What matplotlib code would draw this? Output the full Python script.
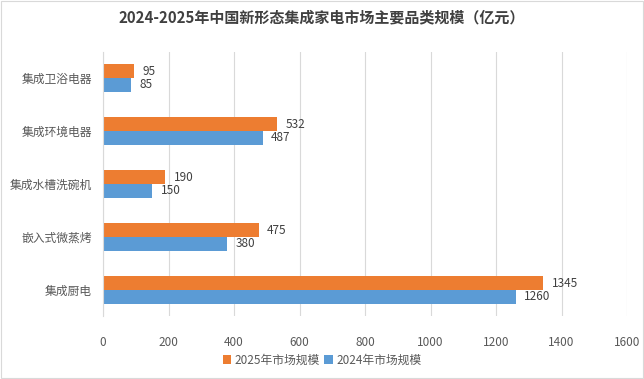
import numpy as np
import matplotlib.pyplot as plt
from matplotlib.patches import Rectangle

plt.rcParams['font.family'] = ['Noto Sans CJK SC', 'DejaVu Sans']

# 数据
categories = ['集成卫浴电器', '集成环境电器', '集成水槽洗碗机', '嵌入式微蒸烤', '集成厨电']
values_2025 = [95, 532, 190, 475, 1345]
values_2024 = [85, 487, 150, 380, 1260]
xticks = [0, 200, 400, 600, 800, 1000, 1200, 1400, 1600]

c25 = '#ED7D31'
c24 = '#5B9BD5'
txt = '#595959'

fig = plt.figure(figsize=(6.44, 3.79), dpi=100)
ax = fig.add_axes([0.16, 0.165, 0.8136, 0.699])

y = np.arange(len(categories))[::-1]
h = 0.26
b25 = ax.barh(y + h / 2, values_2025, height=h, color=c25, label='2025年市场规模')
b24 = ax.barh(y - h / 2, values_2024, height=h, color=c24, label='2024年市场规模')
ax.bar_label(b25, padding=6, fontsize=8.5, color='#404040')
ax.bar_label(b24, padding=6, fontsize=8.5, color='#404040')

ax.set_xlim(0, 1600)
ax.set_ylim(-0.5, len(categories) - 0.5)
ax.set_xticks(xticks)
ax.set_yticks(y)
ax.set_yticklabels(categories, fontsize=8.5, color=txt)
ax.tick_params(axis='x', labelsize=8.5, colors=txt, length=0, pad=14)
ax.tick_params(axis='y', length=0, pad=8)
ax.grid(axis='x', color='#d9d9d9', linewidth=0.8)
ax.set_axisbelow(True)
for s in ['top', 'right', 'bottom']:
    ax.spines[s].set_visible(False)
ax.spines['left'].set_color('#d9d9d9')

fig.suptitle('2024-2025年中国新形态集成家电市场主要品类规模（亿元）',
             x=0.5, y=0.975, fontsize=10.8, fontweight='bold', color='#404040')

fig.legend(loc='center', bbox_to_anchor=(0.5, 0.05), ncol=2, frameon=False,
           fontsize=8.5, handlelength=0.7, handleheight=0.7, columnspacing=0.4,
           handletextpad=0.3, labelcolor=txt)

# 外框
fig.patches.append(Rectangle((0.002, 0.003), 0.996, 0.994, transform=fig.transFigure,
                             fill=False, edgecolor='#d9d9d9', linewidth=0.8))

plt.savefig('out.png')
